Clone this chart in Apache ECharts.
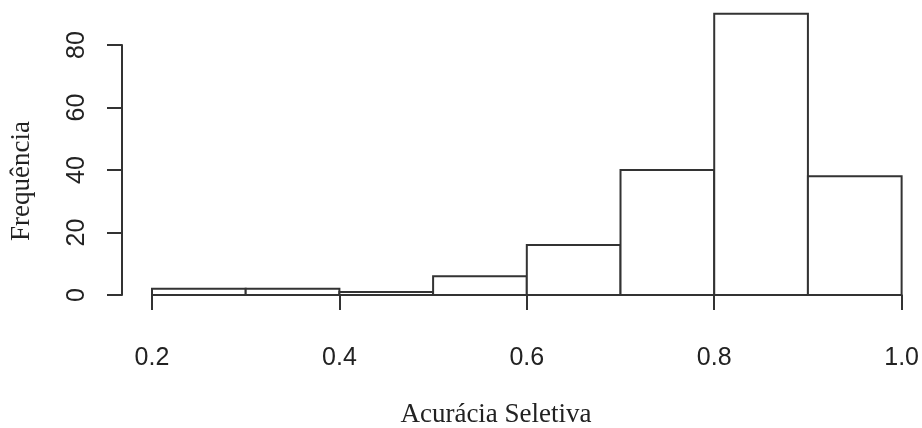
<!DOCTYPE html>
<html>
<head>
<meta charset="utf-8">
<script src="https://cdn.jsdelivr.net/npm/echarts@6/dist/echarts.min.js"></script>
<style>html,body{margin:0;padding:0;background:#fff}#c{width:922px;height:428px}</style>
</head>
<body>
<div id="c"></div>
<script>
var binStarts = [0.2, 0.3, 0.4, 0.5, 0.6, 0.7, 0.8, 0.9];
var binEnds   = [0.3, 0.4, 0.5, 0.6, 0.7, 0.8, 0.9, 1.0];
var counts    = [2, 2, 1, 6, 16, 40, 90, 38];
var xTitle = 'Acurácia Seletiva';
var yTitle = 'Frequência';

var histData = binStarts.map(function (s, i) { return [s, binEnds[i], counts[i]]; });
var ink = '#333';
var chart = echarts.init(document.getElementById('c'), null, {renderer: 'canvas'});
chart.setOption({
  animation: false,
  backgroundColor: '#fff',
  grid: {left: 152, right: 19, top: 45, bottom: 133, containLabel: false},
  xAxis: {
    type: 'value', min: 0.2, max: 1.0, interval: 0.2, offset: 12,
    axisLine: {show: true, lineStyle: {color: ink, width: 2}},
    axisTick: {show: true, length: 15, lineStyle: {color: ink, width: 2}},
    axisLabel: {margin: 39, color: '#222', fontFamily: 'Liberation Sans', fontSize: 25,
      formatter: function (v) { return v.toFixed(1); }},
    splitLine: {show: false}
  },
  yAxis: {
    type: 'value', min: 0, max: 80, interval: 20, offset: 30,
    axisLine: {show: true, lineStyle: {color: ink, width: 2}},
    axisTick: {show: true, length: 15, lineStyle: {color: ink, width: 2}},
    axisLabel: {margin: 32, rotate: 90, color: '#222', fontFamily: 'Liberation Sans', fontSize: 25},
    splitLine: {show: false}
  },
  series: [{
    type: 'custom',
    clip: false,
    data: histData,
    encode: {x: [0, 1], y: 2},
    renderItem: function (params, api) {
      var p0 = api.coord([api.value(0), 0]);
      var p1 = api.coord([api.value(1), api.value(2)]);
      return {
        type: 'rect',
        shape: {x: p0[0], y: p1[1], width: p1[0] - p0[0], height: p0[1] - p1[1]},
        style: {fill: '#fff', stroke: ink, lineWidth: 2}
      };
    }
  }],
  graphic: [
    {type: 'text', x: 496, y: 415, style: {text: xTitle, font: '27px "Liberation Serif"', fill: '#222', textAlign: 'center', textVerticalAlign: 'middle'}},
    {type: 'text', x: 22, y: 181, rotation: Math.PI / 2, style: {text: yTitle, font: '27px "Liberation Serif"', fill: '#222', textAlign: 'center', textVerticalAlign: 'middle'}}
  ]
});
</script>
</body>
</html>
